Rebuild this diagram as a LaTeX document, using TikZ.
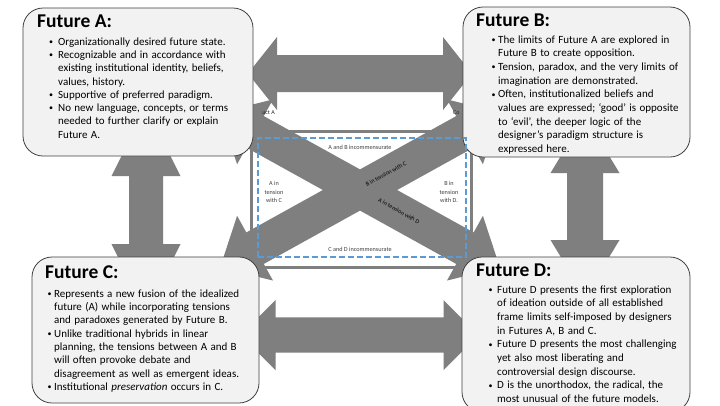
\documentclass[tikz,border=0pt]{standalone}
\usepackage{fontspec}
\setmainfont{Carlito}
\usepackage{enumitem}
\usetikzlibrary{calc}

\definecolor{arrowgray}{HTML}{7F7F7F}
\definecolor{boxfill}{HTML}{F2F2F2}
\definecolor{boxline}{HTML}{404040}
\definecolor{dashblue}{HTML}{5B9BD5}
\definecolor{labelgray}{HTML}{404040}

% double block arrow along the local x axis: half length, shaft half width, head half width, head length
\newcommand\myDblArrow[4]{(-#1,0) -- (-#1+#4,-#3) -- (-#1+#4,-#2) -- (#1-#4,-#2) -- (#1-#4,-#3) -- (#1,0) -- (#1-#4,#3) -- (#1-#4,#2) -- (-#1+#4,#2) -- (-#1+#4,#3) -- cycle}

\newcommand\myBullet{\raisebox{0.8pt}{\fontsize{8}{8}\selectfont\textbullet}}
\newlist{futlist}{itemize}{1}
\setlist[futlist]{label=\myBullet, leftmargin=12pt, labelwidth=4pt, align=right, itemsep=0pt, topsep=0pt, parsep=0pt, partopsep=0pt}

\begin{document}
\begin{tikzpicture}[x=1pt,y=-1pt,
  futurebox/.style={draw=boxline, fill=boxfill, line width=0.8pt, rounded corners=20pt, inner sep=0pt},
  futuretitle/.style={anchor=base west, inner sep=0pt, font=\fontsize{19.5}{22}\selectfont\bfseries},
  futuretext/.style={anchor=north west, inner sep=0pt, text width=230pt, align=left},
  midlabel/.style={font=\fontsize{6.2}{8.3}\selectfont, text=labelgray, inner sep=0pt, align=center},
  bandlabel/.style={font=\fontsize{6}{7}\selectfont, text=black, inner sep=0pt},
  cutlabel/.style={font=\fontsize{6}{7}\selectfont, text=black!85, inner sep=0pt},
  bluedash/.style={draw=dashblue, line width=1.8pt, dash pattern=on 6pt off 3pt},
  arrowshape/.style={fill=arrowgray, draw=none}
]
\useasboundingbox (0,0) rectangle (720,405);
\fill[white] (0,0) rectangle (720,405);

% central frame
\node[draw=arrowgray, line width=3pt, fill=white, minimum width=220pt, minimum height=136pt, inner sep=0pt] (frame) at (361,199) {};

% diagonal double arrows
\fill[arrowshape, shift={(360,190)}, rotate=-29] \myDblArrow{160}{18}{37}{40};
\fill[arrowshape, shift={(360,190)}, rotate=29] \myDblArrow{160}{18}{37}{40};

% horizontal arrows
\fill[arrowshape, shift={(360,73.5)}] \myDblArrow{112}{18.5}{36.5}{29};
\fill[arrowshape, shift={(359.5,335)}] \myDblArrow{119}{17.7}{35}{35};
% vertical arrows
\fill[arrowshape, shift={(146,210)}, rotate=90] \myDblArrow{103}{17}{34.5}{69};
\fill[arrowshape, shift={(585,206.5)}, rotate=90] \myDblArrow{90.5}{18}{34.5}{57};

% cut-off labels on the diagonal arrow heads
\node[cutlabel, anchor=east] (ucta) at (275,113) {uct A};
\node[cutlabel, anchor=west] (coa) at (453,113) {Co};

% boxes
\node[futurebox, minimum width=230pt, minimum height=148pt] (A) at (138,82) {};
\node[futurebox, minimum width=227pt, minimum height=150pt] (B) at (576.5,82) {};
\node[futurebox, minimum width=227pt, minimum height=146pt] (C) at (145.5,330) {};
\node[futurebox, minimum width=228pt, minimum height=155pt] (D) at (576,334.5) {};

% Future A
\node[futuretitle] (Atitle) at (37,27) {Future A:};
\node[futuretext] (Atext) at (46,32) {\fontsize{11}{13.25}\selectfont
\begin{futlist}[labelsep=5pt]
\item \rule{0pt}{10pt}Organizationally desired future state.
\item Recognizable and in accordance with\\existing institutional identity, beliefs,\\values, history.
\item Supportive of preferred paradigm.
\item No new language, concepts, or terms\\needed to further clarify or explain\\Future A.
\end{futlist}};

% Future B
\node[futuretitle] (Btitle) at (476,26.7) {Future B:};
\node[futuretext] (Btext) at (486,29.3) {\fontsize{11}{13.67}\selectfont
\begin{futlist}[labelsep=2.5pt]
\item \rule{0pt}{10pt}The limits of Future A are explored in\\Future B to create opposition.
\item Tension, paradox, and the very limits of\\imagination are demonstrated.
\item Often, institutionalized beliefs and\\values are expressed; ‘good’ is opposite\\to ‘evil’, the deeper logic of the\\designer’s paradigm structure is\\expressed here.
\end{futlist}};

% Future C
\node[futuretitle] (Ctitle) at (45,278.3) {Future C:};
\node[futuretext] (Ctext) at (42,283.7) {\fontsize{11}{13.3}\selectfont
\begin{futlist}[labelsep=2.5pt]
\item \rule{0pt}{10pt}Represents a new fusion of the idealized\\future (A) while incorporating tensions\\and paradoxes generated by Future B.
\item Unlike traditional hybrids in linear\\planning, the tensions between A and B\\will often provoke debate and\\disagreement as well as emergent ideas.
\item Institutional \emph{preservation} occurs in C.
\end{futlist}};

% Future D
\node[futuretitle] (Dtitle) at (476,276.7) {Future D:};
\node[futuretext] (Dtext) at (485,279.3) {\fontsize{11}{13.67}\selectfont
\begin{futlist}[labelsep=4.5pt]
\item \rule{0pt}{10pt}Future D presents the first exploration\\of ideation outside of all established\\frame limits self-imposed by designers\\in Futures A, B and C.
\item Future D presents the most challenging\\yet also most liberating and\\controversial design discourse.
\item D is the unorthodox, the radical, the\\most unusual of the future models.
\end{futlist}};

% blue dashed frame and central labels
\node[bluedash, minimum width=208pt, minimum height=119pt, inner sep=0pt] (blueframe) at (362,197.5) {};
\node[midlabel] (ab) at (360,147) {A and B incommensurate};
\node[midlabel] (cd) at (360,249) {C and D incommensurate};
\node[midlabel] (ac) at (274,192) {A in\\tension\\with C};
\node[midlabel] (bd) at (449,192) {B in\\tension\\with D.};
\node[bandlabel, rotate=29] (bc) at (386,174) {B in tension with C};
\node[bandlabel, rotate=-29] (adl) at (399,211) {A in tension with D};
\end{tikzpicture}
\end{document}
